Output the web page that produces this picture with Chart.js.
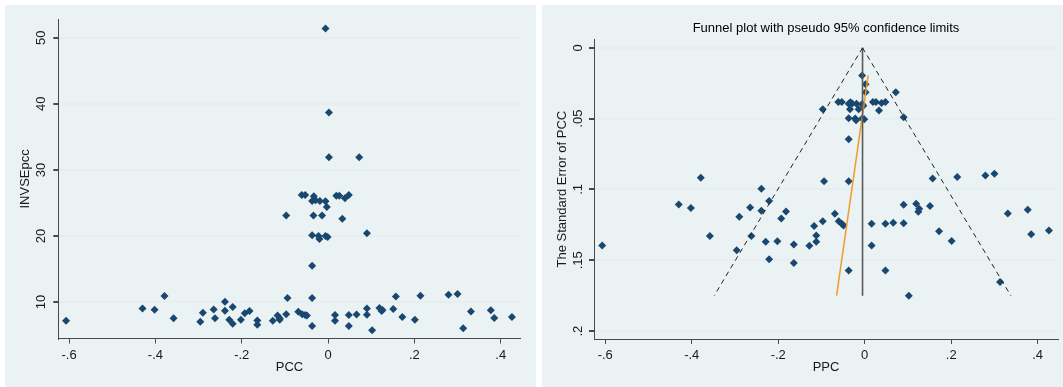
<!DOCTYPE html>
<html>
<head>
<meta charset="utf-8">
<script src="https://cdn.jsdelivr.net/npm/chart.js@4.4.0/dist/chart.umd.min.js"></script>
<style>
  html, body { margin: 0; padding: 0; background: #ffffff; }
  body { width: 1063px; height: 387px; position: relative; overflow: hidden; }
  .panel { position: absolute; top: 5px; height: 382px; background: #eaf2f3; }
  #leftPanel { left: 5px; width: 531px; }
  #rightPanel { left: 542px; width: 521px; }
  canvas { display: block; }
</style>
</head>
<body>
<div class="panel" id="leftPanel"><canvas id="scatterChart" width="531" height="382"></canvas></div>
<div class="panel" id="rightPanel"><canvas id="funnelChart" width="521" height="382"></canvas></div>

<script>
// ==========================
// Data
// ==========================

const pcc = [
  -0.607, -0.430, -0.402, -0.379, -0.358, -0.296, -0.290, -0.265, -0.262, -0.239,
  -0.239, -0.229, -0.221, -0.221, -0.202, -0.193, -0.182, -0.164, -0.164, -0.128,
  -0.117, -0.112, -0.112, -0.097, -0.094, -0.069, -0.060, -0.053, -0.049, -0.037,
  -0.037, 0.016, 0.016, 0.048, 0.048, 0.066, 0.090, 0.090, 0.102, 0.119,
  0.126, 0.124, 0.151, 0.157, 0.172, 0.201, 0.214, 0.279, 0.300, 0.313,
  0.331, 0.377, 0.385, 0.426,
  -0.006, 0.002, 0.002, 0.072, -0.061, -0.053, -0.033, -0.037, -0.029, -0.019,
  -0.006, -0.003, 0.019, 0.026, 0.039, 0.048, 0.033, -0.097, -0.034, -0.014,
  -0.037, -0.022, -0.020, -0.006, -0.001, 0.090, -0.037
];

const invsePcc = [
  7.17, 9.04, 8.84, 10.9, 7.53, 7.0, 8.38, 8.87, 7.53, 10.05,
  8.69, 7.3, 9.24, 6.7, 7.32, 8.3, 8.66, 7.2, 6.58, 7.16,
  7.95, 7.55, 7.3, 8.16, 10.62, 8.54, 8.16, 8.05, 7.97, 10.6,
  6.36, 8.05, 7.17, 8.05, 6.36, 8.1, 9.02, 8.08, 5.71, 9.08,
  8.8, 8.64, 8.95, 10.85, 7.72, 7.33, 10.95, 11.1, 11.23, 6.05,
  8.55, 8.74, 7.6, 7.75,
  51.4, 38.7, 31.9, 31.9, 26.2, 26.2, 26.0, 25.3, 25.4, 25.3,
  25.25, 24.4, 26.1, 26.1, 25.7, 26.2, 22.6, 23.1, 23.1, 23.1,
  20.1, 20.0, 19.55, 20.0, 19.85, 20.4, 15.5
];

const sePcc = [
  0.1395, 0.1106, 0.1131, 0.0917, 0.1328, 0.1429, 0.1193, 0.1127, 0.1328, 0.0995,
  0.1151, 0.1370, 0.1082, 0.1493, 0.1366, 0.1205, 0.1155, 0.1389, 0.1520, 0.1397,
  0.1258, 0.1325, 0.1370, 0.1225, 0.0942, 0.1171, 0.1225, 0.1242, 0.1255, 0.0943,
  0.1572, 0.1242, 0.1395, 0.1242, 0.1572, 0.1235, 0.1109, 0.1238, 0.1751, 0.1101,
  0.1136, 0.1157, 0.1117, 0.0922, 0.1295, 0.1364, 0.0913, 0.0901, 0.0890, 0.1653,
  0.1170, 0.1144, 0.1316, 0.1290,
  0.0195, 0.0258, 0.0313, 0.0313, 0.0382, 0.0382, 0.0385, 0.0395, 0.0394, 0.0395,
  0.0396, 0.0410, 0.0383, 0.0383, 0.0389, 0.0382, 0.0442, 0.0433, 0.0433, 0.0433,
  0.0498, 0.0500, 0.0512, 0.0500, 0.0504, 0.0490, 0.0645
];

// funnel: pseudo 95% limits, pooled estimate, regression line
const funnelSe = [0, 0.175];
const funnelLower = [-0.005, -0.348];
const funnelUpper = [-0.005, 0.338];
const pooledX = [-0.005, -0.005];
const eggerSe = [0.0195, 0.175];
const eggerX = [0.008, -0.065];

// ticks
const xTicks = [-0.6, -0.4, -0.2, 0, 0.2, 0.4];
const xTickLabels = ["-.6", "-.4", "-.2", "0", ".2", ".4"];
const invTicks = [10, 20, 30, 40, 50];
const invTickLabels = ["10", "20", "30", "40", "50"];
const seTicks = [0, 0.05, 0.1, 0.15, 0.2];
const seTickLabels = ["0", ".05", ".1", ".15", ".2"];

// ==========================
// Shared look
// ==========================

const FONT = "'Liberation Sans', Arial, sans-serif";
const TEXT = "#1a1a1a";
const AXIS = "#4a4a4a";
const GRID = "#e6eef0";
const NAVY = "#1a476f";

Chart.defaults.font.family = FONT;
Chart.defaults.font.size = 13;
Chart.defaults.color = TEXT;

function pairs(xs, ys) {
  return xs.map((x, i) => ({ x: x, y: ys[i] }));
}

function setTicks(values) {
  return scale => { scale.ticks = values.map(v => ({ value: v })); };
}

function fixSize(prop, size) {
  return scale => {
    scale[prop] = size;
    scale.paddingLeft = 0; scale.paddingRight = 0;
    scale.paddingTop = 0; scale.paddingBottom = 0;
  };
}

// rotated y tick labels + optional title centred on plot region
const sideText = {
  id: "sideText",
  afterDraw(chart, args, opts) {
    const ctx = chart.ctx;
    const y = chart.scales.y;
    const area = chart.chartArea;
    ctx.save();
    ctx.fillStyle = TEXT;
    ctx.font = "13px " + FONT;
    ctx.textAlign = "center";
    ctx.textBaseline = "middle";
    opts.ticks.forEach((v, i) => {
      const py = y.getPixelForValue(v);
      ctx.save();
      ctx.translate(area.left - opts.offset, py);
      ctx.rotate(-Math.PI / 2);
      ctx.fillText(opts.labels[i], 0, 0);
      ctx.restore();
    });
    if (opts.title) {
      ctx.fillStyle = "#000";
      ctx.fillText(opts.title, (area.left + area.right) / 2, opts.titleY);
    }
    ctx.restore();
  }
};

function xScale(label, min, max, height) {
  return {
    type: "linear",
    min: min,
    max: max,
    afterBuildTicks: setTicks(xTicks),
    afterFit: fixSize("height", height),
    ticks: { callback: (v, i) => xTickLabels[i], padding: 4, color: TEXT },
    grid: { drawOnChartArea: false, drawTicks: true, tickLength: 5, tickColor: AXIS },
    border: { display: true, color: AXIS, width: 1 },
    title: { display: true, text: label, color: TEXT, padding: { top: 12, bottom: 12 } }
  };
}

function yScale(label, min, max, width, ticks, reverse) {
  return {
    type: "linear",
    min: min,
    max: max,
    reverse: reverse,
    afterBuildTicks: setTicks(ticks),
    afterFit: fixSize("width", width),
    ticks: { display: false },
    grid: { color: GRID, lineWidth: 2, drawTicks: true, tickLength: 5, tickColor: AXIS },
    border: { display: true, color: AXIS, width: 1 },
    title: { display: true, text: label, color: TEXT, padding: { top: 13, bottom: 13 } }
  };
}

const baseOpts = {
  responsive: false,
  animation: false,
  plugins: { legend: { display: false }, tooltip: { enabled: false } }
};

// ==========================
// Left: INVSEpcc vs PCC
// ==========================

new Chart(document.getElementById("scatterChart"), {
  type: "scatter",
  data: {
    datasets: [{
      data: pairs(pcc, invsePcc),
      pointStyle: "rectRot",
      pointRadius: 4,
      backgroundColor: NAVY,
      borderWidth: 0
    }]
  },
  options: Object.assign({}, baseOpts, {
    layout: { padding: { top: 14.3, right: 15.4, bottom: 0, left: 0 } },
    scales: {
      x: xScale("PCC", -0.625, 0.446, 48.5),
      y: yScale("INVSEpcc", 4.48, 52.8, 53.3, invTicks, false)
    },
    plugins: Object.assign({}, baseOpts.plugins, {
      sideText: { ticks: invTicks, labels: invTickLabels, offset: 16.5 }
    })
  }),
  plugins: [sideText]
});

// ==========================
// Right: funnel plot
// ==========================

const lineStyle = { showLine: true, pointRadius: 0, fill: false, tension: 0 };

new Chart(document.getElementById("funnelChart"), {
  type: "scatter",
  data: {
    datasets: [
      Object.assign({ data: pairs(funnelLower, funnelSe), borderColor: "#222", borderWidth: 1, borderDash: [5, 4] }, lineStyle),
      Object.assign({ data: pairs(funnelUpper, funnelSe), borderColor: "#222", borderWidth: 1, borderDash: [5, 4] }, lineStyle),
      Object.assign({ data: pairs(pooledX, funnelSe), borderColor: "#5a5a5a", borderWidth: 1.6 }, lineStyle),
      Object.assign({ data: pairs(eggerX, eggerSe), borderColor: "#f39a2a", borderWidth: 1.5 }, lineStyle),
      {
        data: pairs(pcc, sePcc),
        pointStyle: "rectRot",
        pointRadius: 4,
        backgroundColor: NAVY,
        borderWidth: 0
      }
    ]
  },
  options: Object.assign({}, baseOpts, {
    layout: { padding: { top: 34.3, right: 5, bottom: 0, left: 0 } },
    scales: {
      x: xScale("PPC", -0.626, 0.447, 48),
      y: yScale("The Standard Error of PCC", -0.006, 0.2056, 52, seTicks, true)
    },
    plugins: Object.assign({}, baseOpts.plugins, {
      sideText: {
        ticks: seTicks, labels: seTickLabels, offset: 16,
        title: "Funnel plot with pseudo 95% confidence limits", titleY: 23
      }
    })
  }),
  plugins: [sideText]
});
</script>
</body>
</html>
